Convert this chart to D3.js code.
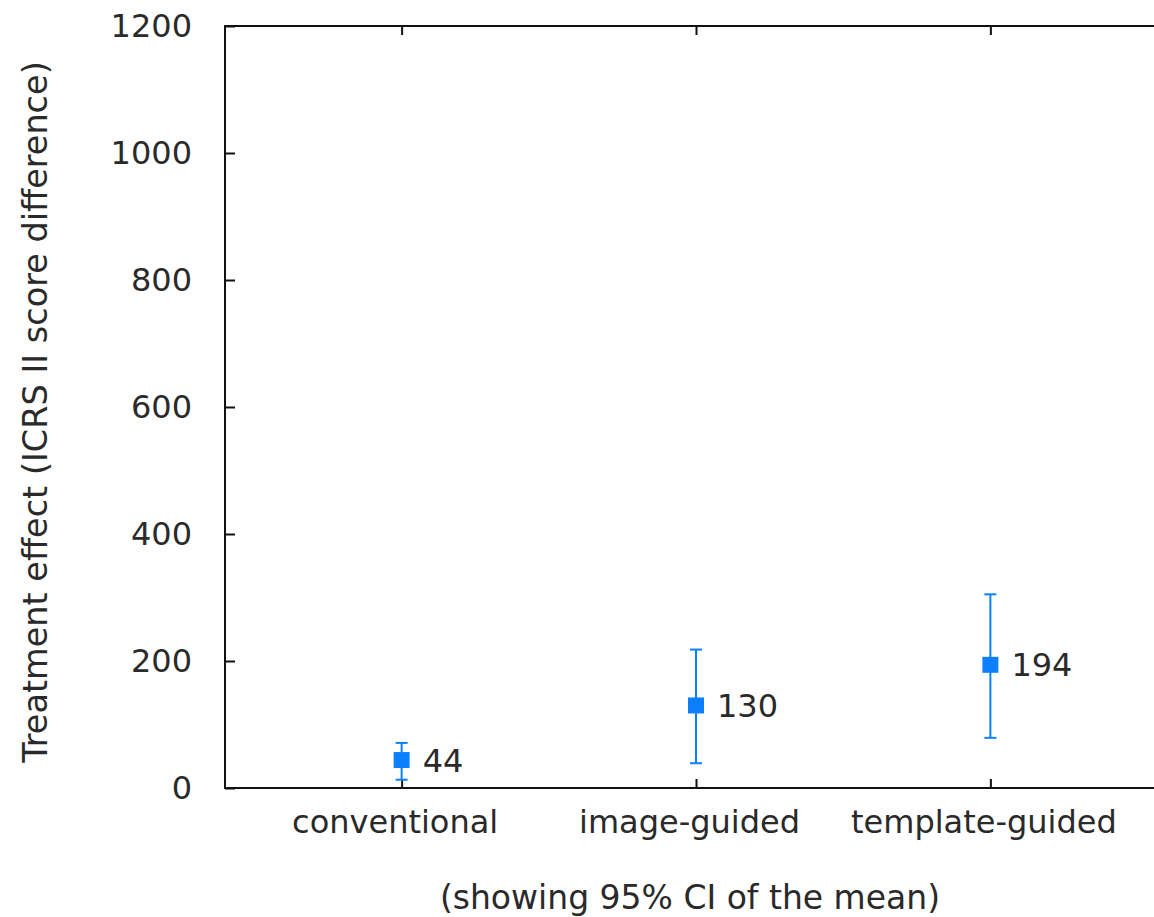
<!DOCTYPE html>
<html lang="en">
<head>
    <meta charset="UTF-8">
    <title>Treatment effect</title>
    <script src="https://d3js.org/d3.v7.min.js"></script>
    <style>
        body { margin: 0; background: #fff; }
        svg text { font-family: "DejaVu Sans", sans-serif; fill: #2a2a2a; }
    </style>
</head>
<body>
<div id="chart"></div>
<script>
    // values
    var categories = ["conventional", "image-guided", "template-guided"];
    var means = [44, 130, 194];
    var lower = [13, 39, 79];
    var upper = [71, 218, 305];
    var yTicks = [0, 200, 400, 600, 800, 1000, 1200];

    var width = 1154, height = 917;
    var plotLeft = 225, plotTop = 26, plotBottom = 788, plotRight = 1167;
    var blue = "#0a80ff";

    var svg = d3.select("#chart").append("svg")
        .attr("width", width).attr("height", height);

    var x = d3.scaleLinear().domain([0.4, 3.6]).range([plotLeft, plotRight]);
    var y = d3.scaleLinear().domain([0, 1200]).range([plotBottom, plotTop]);

    var axisStyle = function (g) {
        g.select(".domain").remove();
        g.selectAll("line").attr("stroke", "#111").attr("stroke-width", 2);
        g.selectAll("text").style("font-size", "32px").attr("fill", "#2a2a2a");
    };

    // y axis, ticks pointing inwards
    svg.append("g")
        .attr("transform", "translate(" + plotLeft + ",0)")
        .call(d3.axisLeft(y).tickValues(yTicks).tickSize(-10).tickPadding(33)
            .tickFormat(d3.format("d")))
        .call(axisStyle);

    // bottom axis with category labels, ticks inwards
    var xb = svg.append("g")
        .attr("transform", "translate(0," + plotBottom + ")")
        .call(d3.axisBottom(x).tickValues([1, 2, 3]).tickSize(-9).tickPadding(22)
            .tickFormat(function (d) { return categories[d - 1]; }))
        .call(axisStyle);
    xb.selectAll("text").attr("dx", -7);

    // top axis, ticks only
    svg.append("g")
        .attr("transform", "translate(0," + plotTop + ")")
        .call(d3.axisTop(x).tickValues([1, 2, 3]).tickSize(-9).tickFormat(""))
        .call(axisStyle);

    // frame lines: left, top, bottom
    svg.append("path")
        .attr("d", "M" + plotRight + "," + plotTop + "H" + plotLeft + "V" + plotBottom + "H" + plotRight)
        .attr("fill", "none").attr("stroke", "#111").attr("stroke-width", 2);

    var pts = svg.append("g").selectAll("g")
        .data(categories)
        .join("g")
        .attr("transform", function (d, i) { return "translate(" + x(i + 1) + ",0)"; });

    pts.append("line")
        .attr("y1", function (d, i) { return y(lower[i]); })
        .attr("y2", function (d, i) { return y(upper[i]); })
        .attr("stroke", blue).attr("stroke-width", 2);
    pts.append("line")
        .attr("x1", -6).attr("x2", 6)
        .attr("y1", function (d, i) { return y(upper[i]); })
        .attr("y2", function (d, i) { return y(upper[i]); })
        .attr("stroke", blue).attr("stroke-width", 2);
    pts.append("line")
        .attr("x1", -6).attr("x2", 6)
        .attr("y1", function (d, i) { return y(lower[i]); })
        .attr("y2", function (d, i) { return y(lower[i]); })
        .attr("stroke", blue).attr("stroke-width", 2);
    pts.append("rect")
        .attr("x", -8).attr("width", 16).attr("height", 16)
        .attr("y", function (d, i) { return y(means[i]) - 8; })
        .attr("fill", blue);
    pts.append("text")
        .attr("x", 21)
        .attr("y", function (d, i) { return y(means[i]); })
        .attr("dy", "0.36em")
        .style("font-size", "32px")
        .text(function (d, i) { return means[i]; });

    svg.append("text")
        .attr("transform", "translate(47,412) rotate(-90)")
        .attr("text-anchor", "middle")
        .style("font-size", "33.5px")
        .text("Treatment effect (ICRS II score difference)");

    svg.append("text")
        .attr("x", 690).attr("y", 909)
        .attr("text-anchor", "middle")
        .style("font-size", "33px")
        .text("(showing 95% CI of the mean)");
</script>
</body>
</html>
